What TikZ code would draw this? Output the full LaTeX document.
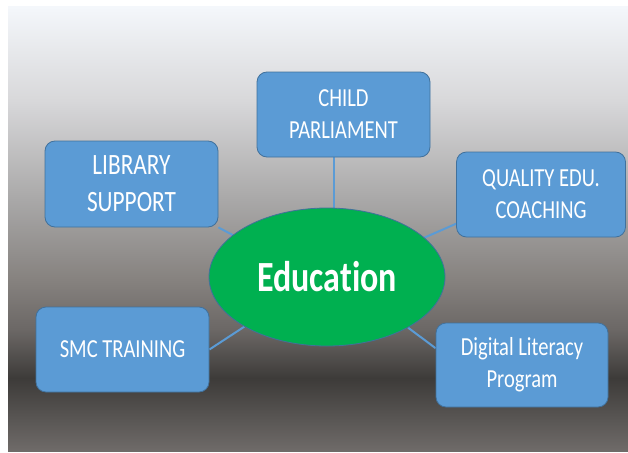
\documentclass[tikz,border=0pt]{standalone}
\usepackage{fontspec}
\newfontfamily\boxfont[FakeStretch=0.79, Ligatures=NoCommon]{Carlito}
\usetikzlibrary{shapes.geometric,backgrounds}

\definecolor{boxblue}{HTML}{5B9BD5}
\definecolor{boxedge}{HTML}{41719C}
\definecolor{edugreen}{HTML}{00B050}
\definecolor{bgtop}{HTML}{F4F7FB}
\definecolor{bgpale}{HTML}{D8D8DA}
\definecolor{bgmid}{HTML}{A9A8A8}
\definecolor{bglow}{HTML}{86827F}
\definecolor{bgdeep}{HTML}{6B6765}
\definecolor{bgdark}{HTML}{3D3B39}
\definecolor{bgfoot}{HTML}{6F6B69}

\pgfdeclareverticalshading{backdrop}{100bp}{color(0bp)=(bgfoot); color(25bp)=(bgfoot);
  color(33.2bp)=(bgdark); color(38.6bp)=(bgdeep); color(44.3bp)=(bglow);
  color(53.3bp)=(bgmid); color(64.5bp)=(bgpale); color(75bp)=(bgtop); color(100bp)=(bgtop)}

\begin{document}
\begin{tikzpicture} [x=1pt, y=-1pt,
    topic/.style={draw=boxedge, line width=0.8pt, fill=boxblue, rounded corners=10pt, minimum width=173pt, minimum height=85pt, align=center, text=white, font=\boxfont\fontsize{26}{32}\selectfont},
    hub/.style={ellipse, draw=boxedge, line width=0.8pt, fill=edugreen, minimum width=236pt, minimum height=138pt, inner sep=0pt, text=white, font=\boxfont\bfseries\fontsize{43}{50}\selectfont},
    link/.style={boxblue, line width=2pt}
  ]

\useasboundingbox (0,0) rectangle (628,452);

\node[hub] (edu) at (327,277) {Education};

\node[topic] (child) at (343.5,114.5) {CHILD\\PARLIAMENT};
\node[topic, minimum height=86pt, font=\boxfont\fontsize{29.5}{37}\selectfont] (library) at (131.5,184) {LIBRARY\\SUPPORT};
\node[topic, minimum width=169pt] (quality) at (541,194.5) {QUALITY EDU.\\COACHING};
\node[topic] (smc) at (122.5,349.5) {SMC TRAINING};
\node[topic, minimum width=172pt, minimum height=84pt] (digital) at (522,365) {Digital Literacy\\Program};

% backdrop and links
\begin{scope}[on background layer]
\shade[shading=backdrop] (8,7) rectangle (628,451);
\draw[link] (edu.84) -- (edu.84 |- child.south);
\draw[link] (library.south east) -- (edu.156);
\draw[link] (quality.199) -- (edu.22);
\draw[link] (smc.east) -- (edu.211);
\draw[link] (digital.169) -- (edu.328);
\end{scope}

\end{tikzpicture}
\end{document}
